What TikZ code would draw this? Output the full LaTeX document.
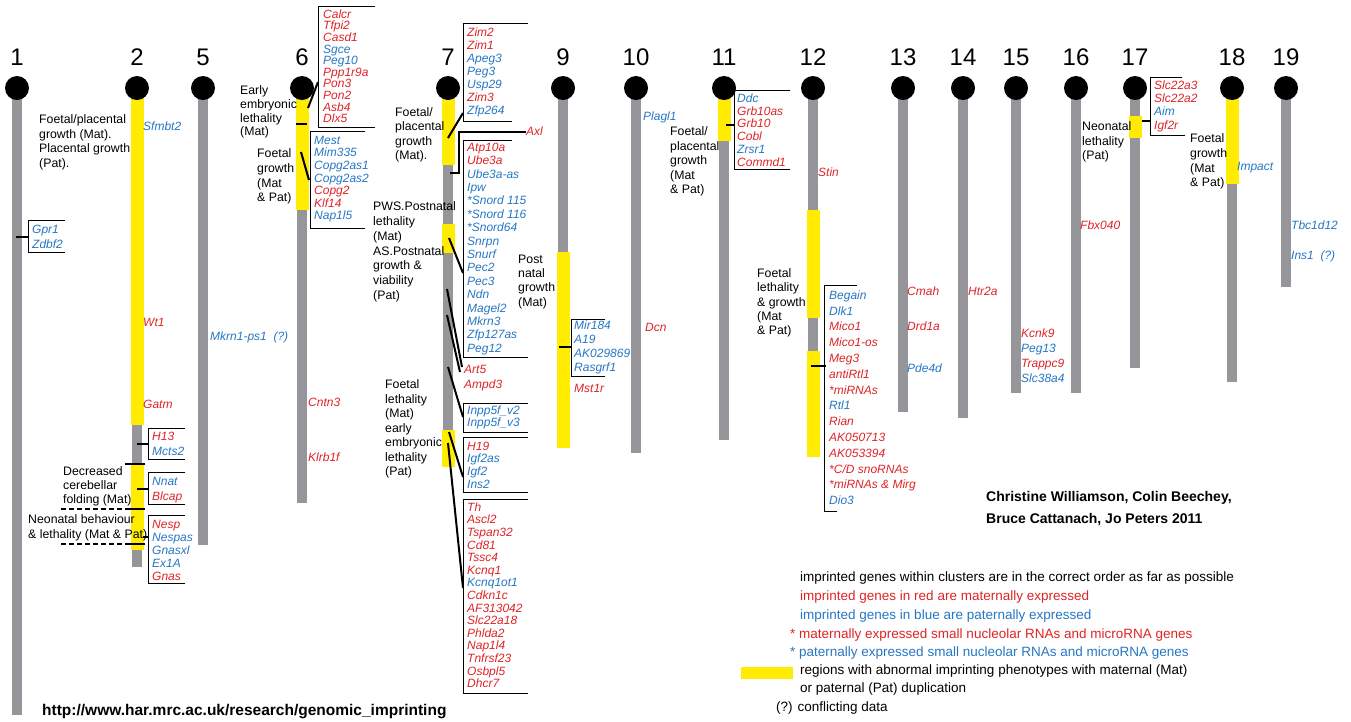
\documentclass[tikz,border=0pt]{standalone}
\usepackage{fontspec}
\setmainfont{Liberation Sans}
\usepackage{tikz}
\definecolor{ChromGray}{RGB}{150,149,154}
\definecolor{ImpYellow}{RGB}{255,236,0}
\definecolor{MatRed}{RGB}{222,35,38}
\definecolor{PatBlue}{RGB}{38,118,196}

\begin{document}
\begin{tikzpicture}[x=1pt,y=-1pt,gene/.style={font=\fontsize{12}{12}\selectfont\itshape,anchor=west,inner sep=0pt,text height=8.8pt,text depth=2.4pt},mat/.style={gene,MatRed},pat/.style={gene,PatBlue},note/.style={font=\fontsize{12.3}{14.5}\selectfont,align=left,anchor=north west,inner sep=0pt},chrnum/.style={font=\fontsize{24}{24}\selectfont,inner sep=0pt},brk/.style={line width=0.9pt},hitch/.style={line width=2.4pt},link/.style={line width=2pt},legend/.style={font=\fontsize{13.5}{18}\selectfont,anchor=west,inner sep=0pt,align=left}]
    \useasboundingbox (0,0) rectangle (1351,721);
    \foreach \n/\x/\e in %
    {1/17/715,2/137/567,5/203/545,6/302/503,7/448/467,9/563/448,10/636/453,11/724/440,12/813/457,13/903/412,14/963/418,15/1016/393,16/1076/393,17/1135/368,18/1232/382,19/1286/287} {
       \fill[ChromGray] (\x-5,92) rectangle (\x+5,\e);
       \node[chrnum] (num\n) at (\x,57) {\n};
    }
    \foreach \x/\a/\b in %
    {137/98/425,137/463/550,302/98/210,448/98/165,448/224/253,448/430/467,563/252/448,724/98/141,813/210/318,813/351/457,1135/116/138,1232/98/184} {
       \fill[ImpYellow] (\x-6.5,\a) rectangle (\x+6.5,\b);
    }
    \foreach \n/\x in {1/17,2/137,5/203,6/302,7/448,9/563,10/636,11/724,12/813,13/903,14/963,15/1016,16/1076,17/1135,18/1232,19/1286} {
       \fill (\x,88) circle (12);
    }
    % chromosome 1 and 2
    \node[note] (n1) at (39,114.5) {Foetal/placental\\growth (Mat).\\Placental growth\\(Pat).};
    \draw[brk] (65,220) -| (28,252) -- (65,252);
    \draw[hitch] (16,237) -- (28,237);
    \node[pat] (gpr1) at (32,230) {Gpr1};
    \node[pat] (zdbf2) at (32,245) {Zdbf2};
    \node[pat] (sfmbt2) at (143,127) {Sfmbt2};
    \node[mat] (wt1) at (143,323) {Wt1};
    \node[mat] (gatm) at (143,405) {Gatm};
    \draw[brk] (185,428) -| (148,459) -- (185,459);
    \draw[brk] (185,472) -| (148,504) -- (185,504);
    \draw[brk] (185,515) -| (148,583) -- (185,583);
    \draw[hitch] (137,444) -- (148,444);
    \draw[hitch] (137,489) -- (148,489);
    \draw[hitch] (143,537) -- (148,537);
    \foreach \y in {464,509,544} {
       \draw[hitch] (125,\y) -- (145,\y);
    }
    \draw[line width=1.3pt,dash pattern=on 5pt off 3pt] (61,509) -- (125,509) (61,544) -- (125,544);
    \foreach \g/\s [count=\i from 0] in {H13/mat,Mcts2/pat} \node[\s] (g2a\i) at (152,437+15*\i) {\g};
    \foreach \g/\s [count=\i from 0] in {Nnat/pat,Blcap/mat} \node[\s] (g2b\i) at (152,482+15*\i) {\g};
    \foreach \g/\s [count=\i from 0] in {Nesp/mat,Nespas/pat,Gnasxl/pat,Ex1A/pat,Gnas/mat} \node[\s] (g2c\i) at (152,525+13*\i) {\g};
    \node[note,font=\fontsize{12.3}{14}\selectfont] (n2a) at (63,466.5) {Decreased\\cerebellar\\folding (Mat)};
    \node[note,font=\fontsize{12.3}{15}\selectfont] (n2b) at (28,514.5) {Neonatal behaviour\\\& lethality (Mat \& Pat)};
    % chromosome 5 and 6
    \node[pat] (mkrn1) at (210,337) {Mkrn1-ps1~~(?)};
    \draw[brk] (375,6) -| (318,127) -- (375,127);
    \draw[brk] (365,131) -| (310,228) -- (365,228);
    \draw[link] (308,108) -- (318,82);
    \draw[link] (301,152) -- (309,180);
    \draw[hitch] (296,124) -- (307,124);
    \foreach \g/\s [count=\i from 0] in {Calcr/mat,Tfpi2/mat,Casd1/mat,Sgce/pat,Peg10/pat,Ppp1r9a/mat,Pon3/mat,Pon2/mat,Asb4/mat,Dlx5/mat} \node[\s] (g6a\i) at (323,15+11.6*\i) {\g};
    \foreach \g/\s [count=\i from 0] in {Mest/pat,Mim335/pat,Copg2as1/pat,Copg2as2/pat,Copg2/mat,Klf14/mat,Nap1l5/pat} \node[\s] (g6b\i) at (314,141+12.6*\i) {\g};
    \node[note,font=\fontsize{12.3}{13.7}\selectfont] (n6a) at (240,85.5) {Early\\embryonic\\lethality\\(Mat)};
    \node[note,font=\fontsize{12.3}{14.7}\selectfont] (n6b) at (257,148.5) {Foetal\\growth\\(Mat\\\& Pat)};
    \node[mat] (cntn3) at (308,403) {Cntn3};
    \node[mat] (klrb1f) at (308,458) {Klrb1f};
    % chromosome 7
    \draw[brk] (528,23) -| (463,121) -- (512,121);
    \draw[brk] (512,140) -| (463,357) -- (528,357);
    \draw[brk] (528,403) -| (463,432) -- (528,432);
    \draw[brk] (528,437) -| (463,492) -- (528,492);
    \draw[brk] (528,499) -| (463,693) -- (528,693);
    \node[mat] (axl) at (526,132) {Axl};
    \draw[link] (450,173) -- (459,173) -- (459,132) -- (axl.west);
    \draw[link] (448,138) -- (463,113);
    \draw[link] (449,238) -- (463,273);
    \draw[link] (447,289) -- (462,367);
    \draw[link] (447,315) -- (460,372);
    \draw[link] (448,367) -- (463,417);
    \draw[link] (449,432) -- (463,477);
    \draw[link] (448,443) -- (463,588);
    \foreach \g/\s [count=\i from 0] in {Zim2/mat,Zim1/mat,Apeg3/pat,Peg3/pat,Usp29/pat,Zim3/mat,Zfp264/pat} \node[\s] (g7a\i) at (467,33+13*\i) {\g};
    \foreach \g/\s [count=\i from 0] in {Atp10a/mat,Ube3a/mat,Ube3a-as/pat,Ipw/pat,*Snord 115/pat,*Snord 116/pat,*Snord64/pat,Snrpn/pat,Snurf/pat,Pec2/pat,Pec3/pat,Ndn/pat,Magel2/pat,Mkrn3/pat,Zfp127as/pat,Peg12/pat} \node[\s] (g7b\i) at (467,148+13.4*\i) {\g};
    \node[mat] (art5) at (464,370) {Art5};
    \node[mat] (ampd3) at (464,385) {Ampd3};
    \node[pat] (inpp5fa) at (467,411) {Inpp5f\_v2};
    \node[pat] (inpp5fb) at (467,423) {Inpp5f\_v3};
    \foreach \g/\s [count=\i from 0] in {H19/mat,Igf2as/pat,Igf2/pat,Ins2/pat} \node[\s] (g7c\i) at (467,447+12.7*\i) {\g};
    \foreach \g/\s [count=\i from 0] in {Th/mat,Ascl2/mat,Tspan32/mat,Cd81/mat,Tssc4/mat,Kcnq1/mat,Kcnq1ot1/pat,Cdkn1c/mat,AF313042/mat,Slc22a18/mat,Phlda2/mat,Nap1l4/mat,Tnfrsf23/mat,Osbpl5/mat,Dhcr7/mat} \node[\s] (g7d\i) at (467,508+12.6*\i) {\g};
    \node[note,font=\fontsize{12.3}{14.3}\selectfont] (n7a) at (395,107.5) {Foetal/\\placental\\growth\\(Mat).};
    \node[note,font=\fontsize{12.3}{14.8}\selectfont] (n7b) at (373,201.5) {PWS.Postnatal\\lethality\\(Mat)\\AS.Postnatal\\growth \&\\viability\\(Pat)};
    \node[note] (n7c) at (385,379.5) {Foetal\\lethality\\(Mat)\\early\\embryonic\\lethality\\(Pat)};
    % chromosome 9, 10, 11
    \node[note,font=\fontsize{12.3}{14.3}\selectfont] (n9) at (518,254.5) {Post\\natal\\growth\\(Mat)};
    \draw[brk] (605,319) -| (571,376) -- (605,376);
    \draw[hitch] (559,347) -- (571,347);
    \foreach \g [count=\i from 0] in {Mir184,A19,AK029869,Rasgrf1} \node[pat] (g9\i) at (574,326+14*\i) {\g};
    \node[mat] (mst1r) at (574,389) {Mst1r};
    \node[pat] (plagl1) at (643,117) {Plagl1};
    \node[mat] (dcn) at (645,328) {Dcn};
    \draw[brk] (790,90) -| (734,169) -- (790,169);
    \draw[hitch] (726,125) -- (734,125);
    \foreach \g/\s [count=\i from 0] in {Ddc/pat,Grb10as/mat,Grb10/mat,Cobl/mat,Zrsr1/pat,Commd1/mat} \node[\s] (g11\i) at (737,99+12.8*\i) {\g};
    \node[note] (n11) at (670,126.5) {Foetal/\\placental\\growth\\(Mat\\\& Pat)};
    % chromosome 12 to 16
    \node[mat] (stin) at (818,173) {Stin};
    \node[note,font=\fontsize{12.3}{14.3}\selectfont] (n12) at (757,268.5) {Foetal\\lethality\\\& growth\\(Mat\\\& Pat)};
    \draw[brk] (857,285) -| (824,511) -- (837,511);
    \draw[hitch] (811,366) -- (826,366);
    \foreach \g/\s [count=\i from 0] in {Begain/pat,Dlk1/pat,Mico1/mat,Mico1-os/mat,Meg3/mat,antiRtl1/mat,*miRNAs/mat,Rtl1/pat,Rian/mat,AK050713/mat,AK053394/mat,{*C/D snoRNAs}/mat,*miRNAs \& Mirg/mat,Dio3/pat} \node[\s] (g12\i) at (829,296+15.8*\i) {\g};
    \node[mat] (cmah) at (907,292) {Cmah};
    \node[mat] (drd1a) at (907,327) {Drd1a};
    \node[pat] (pde4d) at (907,369) {Pde4d};
    \node[mat] (htr2a) at (968,292) {Htr2a};
    \foreach \g/\s [count=\i from 0] in {Kcnk9/mat,Peg13/pat,Trappc9/mat,Slc38a4/pat} \node[\s] (g15\i) at (1021,334+15*\i) {\g};
    \node[mat] (fbx040) at (1080,226) {Fbx040};
    % chromosome 17 to 19
    \draw[brk] (1182,77) -| (1150,135) -- (1185,135);
    \draw[hitch] (1142,121) -- (1150,121);
    \foreach \g/\s [count=\i from 0] in {Slc22a3/mat,Slc22a2/mat,Aim/pat,Igf2r/mat} \node[\s] (g17\i) at (1154,86+13.3*\i) {\g};
    \node[note] (n17) at (1082,121.5) {Neonatal\\lethality\\(Pat)};
    \node[note,font=\fontsize{12.3}{14.7}\selectfont] (n18) at (1190,133.5) {Foetal\\growth\\(Mat\\\& Pat)};
    \node[pat] (impact) at (1237,167) {Impact};
    \node[pat] (tbc1d12) at (1291,226) {Tbc1d12};
    \node[pat] (ins1) at (1291,256) {Ins1~~(?)};
    % key and credits
    \node[font=\fontsize{14}{22}\selectfont\bfseries,align=left,anchor=north west,inner sep=0pt] (authors) at (986,491) {Christine Williamson, Colin Beechey,\\Bruce Cattanach, Jo Peters 2011};
    \node[font=\fontsize{15.5}{16}\selectfont\bfseries,anchor=west,inner sep=0pt] (url) at (42,712) {http://www.har.mrc.ac.uk/research/genomic\_imprinting};
    \node[legend] (key1) at (800,578) {imprinted genes within clusters are in the correct order as far as possible};
    \node[legend,MatRed] (key2) at (800,597) {imprinted genes in red are maternally expressed};
    \node[legend,PatBlue] (key3) at (800,616) {imprinted genes in blue are paternally expressed};
    \node[legend,MatRed] (key4) at (790,635) {* maternally expressed small nucleolar RNAs and microRNA genes};
    \node[legend,PatBlue] (key5) at (790,653) {* paternally expressed small nucleolar RNAs and microRNA genes};
    \fill[ImpYellow] (741,667) rectangle (793,679);
    \node[legend,anchor=north west] (key6) at (800,665) {regions with abnormal imprinting phenotypes with maternal (Mat)\\or paternal (Pat) duplication};
    \node[legend] (key7) at (776,708) {(?) conflicting data};
\end{tikzpicture}
\end{document}
